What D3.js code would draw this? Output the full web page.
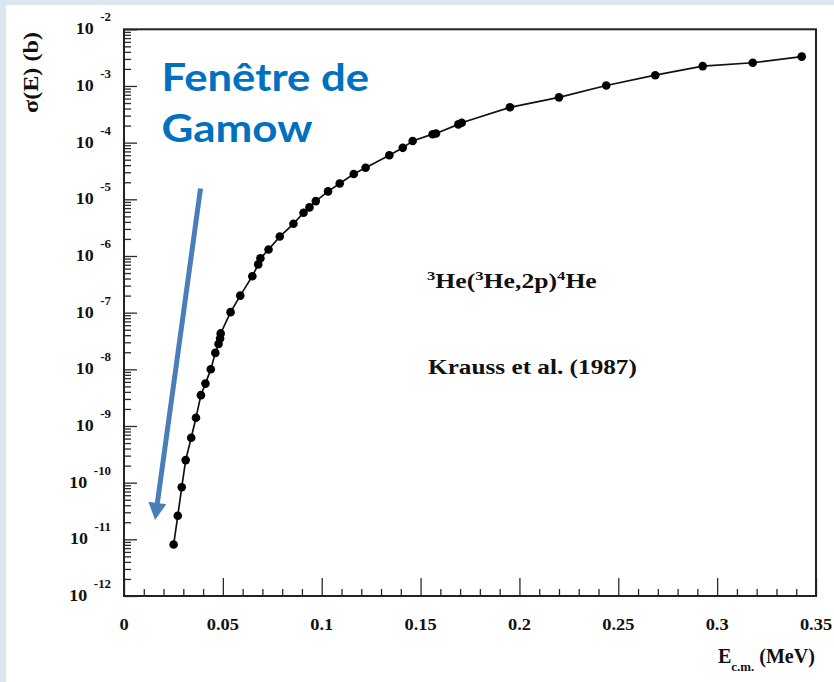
<!DOCTYPE html>
<html>
<head>
<meta charset="utf-8">
<script src="https://cdn.jsdelivr.net/npm/d3@7"></script>
<style>
  html, body { margin: 0; padding: 0; background: #dce6f1; }
  svg { display: block; }
</style>
</head>
<body>
<svg id="chart" width="834" height="682"></svg>
<script>
// 3He(3He,2p)4He cross section, Krauss et al. (1987)
const energyMeV = [
  0.0251, 0.0272, 0.0292, 0.0312, 0.0340, 0.0364, 0.0389, 0.0412, 0.0439, 0.0462,
  0.0478, 0.0486, 0.0489, 0.0539, 0.0588, 0.0649, 0.0679, 0.0690, 0.0731, 0.0788,
  0.0857, 0.0908, 0.0938, 0.0970, 0.1032, 0.1091, 0.1162, 0.1222, 0.1342, 0.1410,
  0.1460, 0.1561, 0.1578, 0.1691, 0.1708, 0.1952, 0.2200, 0.2439, 0.2687, 0.2927,
  0.3180, 0.3428
];
const sigmaBarn = [
  8.1e-12, 2.6e-11, 8.3e-11, 2.5e-10, 6.2e-10, 1.4e-9, 3.5e-9, 5.6e-9, 1.0e-8, 1.95e-8,
  2.8e-8, 3.5e-8, 4.3e-8, 1.02e-7, 2.0e-7, 4.4e-7, 7.1e-7, 9.1e-7, 1.3e-6, 2.2e-6,
  3.7e-6, 5.8e-6, 7.2e-6, 9.3e-6, 1.38e-5, 1.9e-5, 2.8e-5, 3.6e-5, 6.0e-5, 8.1e-5,
  1.07e-4, 1.41e-4, 1.45e-4, 2.1e-4, 2.24e-4, 4.2e-4, 6.3e-4, 1.02e-3, 1.55e-3, 2.24e-3,
  2.57e-3, 3.3e-3
];
const xTickValues = [0, 0.05, 0.1, 0.15, 0.2, 0.25, 0.3, 0.35];
const xTickLabels = ["0", "0.05", "0.1", "0.15", "0.2", "0.25", "0.3", "0.35"];
const yDecadeExponents = [-2, -3, -4, -5, -6, -7, -8, -9, -10, -11, -12];

// Gamow-window arrow, in data units (start -> tip)
const arrowFrom = [0.0387, 1.55e-5];
const arrowTo = [0.0157, 2.2e-11];

const svg = d3.select("#chart");
const serif = "'Liberation Serif', 'Times New Roman', 'DejaVu Serif', serif";
const sans = "Lato, Carlito, 'Open Sans', sans-serif";

// page panel
svg.append("rect").attr("width", 834).attr("height", 682).attr("fill", "#dce6f1");
svg.append("rect").attr("x", 6).attr("y", 5).attr("width", 828).attr("height", 677).attr("fill", "#ffffff");

const frame = { left: 124, top: 29.3, right: 816, bottom: 596 };
const x = d3.scaleLinear().domain([0, 0.35]).range([frame.left, frame.right]);
const y = d3.scaleLog().domain([1e-12, 1e-2]).range([frame.bottom, frame.top]);

const tickColor = "#2a2a2a";

// x ticks (major + minor), pointing into the frame
const xMinor = d3.range(1, 35).map(i => i / 100).filter((v, i) => (i + 1) % 5 !== 0);
function styleTicks(g) {
  g.select(".domain").remove();
  g.selectAll(".tick line").attr("stroke", tickColor).attr("stroke-width", 1.3);
  g.selectAll(".tick text").remove();
}
svg.append("g").attr("transform", `translate(0,${frame.bottom})`)
  .call(d3.axisTop(x).tickValues(xTickValues).tickSize(18).tickFormat(""))
  .call(styleTicks);
svg.append("g").attr("transform", `translate(0,${frame.bottom})`)
  .call(d3.axisTop(x).tickValues(xMinor).tickSize(7).tickFormat(""))
  .call(styleTicks);

// y ticks: decades and log minors
const yMajor = yDecadeExponents.map(e => Math.pow(10, e));
const yMinor = [];
for (let e = -12; e < -2; e++) for (let k = 2; k <= 9; k++) yMinor.push(k * Math.pow(10, e));
svg.append("g").attr("transform", `translate(${frame.left},0)`)
  .call(d3.axisRight(y).tickValues(yMajor).tickSize(13).tickFormat(""))
  .call(styleTicks);
svg.append("g").attr("transform", `translate(${frame.left},0)`)
  .call(d3.axisRight(y).tickValues(yMinor).tickSize(7).tickFormat(""))
  .call(styleTicks);

// frame
svg.append("rect")
  .attr("x", frame.left).attr("y", frame.top)
  .attr("width", frame.right - frame.left).attr("height", frame.bottom - frame.top)
  .attr("fill", "none").attr("stroke", "#222").attr("stroke-width", 2);

// x tick labels
const xLab = svg.append("g");
xTickValues.forEach((v, i) => {
  xLab.append("g").attr("transform", `translate(${x(v)},630) scale(1.15,1)`)
    .append("text")
    .attr("text-anchor", "middle")
    .attr("font-family", serif).attr("font-weight", "bold").attr("font-size", 16)
    .attr("fill", "#111")
    .text(xTickLabels[i]);
});

// y tick labels: 10^n
const yLab = svg.append("g");
yDecadeExponents.forEach(e => {
  const t = yLab.append("g").attr("transform", `translate(111,${y(Math.pow(10, e)) + 5}) scale(1.12,1)`)
    .append("text")
    .attr("text-anchor", "end")
    .attr("font-family", serif).attr("font-weight", "bold").attr("font-size", 16)
    .attr("fill", "#111");
  t.append("tspan").text("10");
  t.append("tspan").attr("dx", 6).attr("dy", -13).attr("font-size", 11.5).text(String(e));
});

// bold serif text stretched horizontally to a given width
function fitted(parent, transform, width, build) {
  const g = parent.append("g");
  const t = g.append("text").attr("font-family", serif).attr("font-weight", "bold").attr("fill", "#111");
  build(t);
  const w = t.node().getBBox().width;
  g.attr("transform", `${transform} scale(${width / w},1)`);
  return t;
}

// axis titles
fitted(svg, "translate(38,113) rotate(-90)", 81, t => {
  t.attr("font-size", 20).text("σ(E) (b)");
});

fitted(svg, "translate(718,663)", 97, t => {
  t.attr("font-size", 21);
  t.append("tspan").text("E");
  t.append("tspan").attr("font-size", 13.5).attr("dy", 8).text("c.m.");
  t.append("tspan").attr("dy", -8).text(" (MeV)");
});

// reaction and reference labels
fitted(svg, "translate(427,288)", 170, t => {
  t.attr("font-size", 20);
  const parts = [["3", true], ["He(", false], ["3", true], ["He,2p)", false], ["4", true], ["He", false]];
  parts.forEach(([s, sup], i) => {
    t.append("tspan").attr("font-size", sup ? 13 : 20).attr("dy", i === 0 ? -8 : (sup ? -8 : 8)).text(s);
  });
});

fitted(svg, "translate(428,374)", 209, t => {
  t.attr("font-size", 20).text("Krauss et al. (1987)");
});

// data curve
const pts = energyMeV.map((e, i) => [e, sigmaBarn[i]]);
svg.append("path")
  .datum(pts)
  .attr("fill", "none").attr("stroke", "#111").attr("stroke-width", 1.7)
  .attr("d", d3.line().x(d => x(d[0])).y(d => y(d[1])));
svg.append("g").selectAll("circle").data(pts).join("circle")
  .attr("cx", d => x(d[0])).attr("cy", d => y(d[1])).attr("r", 4.3)
  .attr("fill", "#000");

// Gamow window annotation
const blue = "#0070c0";
const ann = svg.append("g");
function sansFitted(transform, width, size, str) {
  const g = ann.append("g");
  const t = g.append("text").attr("font-family", sans).attr("font-weight", "bold")
    .attr("font-size", size).attr("fill", blue).text(str);
  const w = t.node().getBBox().width;
  g.attr("transform", `${transform} scale(${width / w},1)`);
}
sansFitted("translate(161.5,91)", 207.5, 39, "Fenêtre de");
sansFitted("translate(161.5,142)", 151, 39, "Gamow");

const ax0 = x(arrowFrom[0]), ay0 = y(arrowFrom[1]);
const ax1 = x(arrowTo[0]), ay1 = y(arrowTo[1]);
const ang = Math.atan2(ay1 - ay0, ax1 - ax0);
const headLen = 17, headHalf = 9;
const bx = ax1 - headLen * Math.cos(ang), by = ay1 - headLen * Math.sin(ang);
const arrowColor = "#4a7ebb";
ann.append("line")
  .attr("x1", ax0).attr("y1", ay0).attr("x2", bx + 2 * Math.cos(ang)).attr("y2", by + 2 * Math.sin(ang))
  .attr("stroke", arrowColor).attr("stroke-width", 5);
ann.append("path")
  .attr("d", d3.line()([
    [ax1, ay1],
    [bx + headHalf * Math.sin(ang), by - headHalf * Math.cos(ang)],
    [bx - headHalf * Math.sin(ang), by + headHalf * Math.cos(ang)]
  ]) + "Z")
  .attr("fill", arrowColor);
</script>
</body>
</html>
